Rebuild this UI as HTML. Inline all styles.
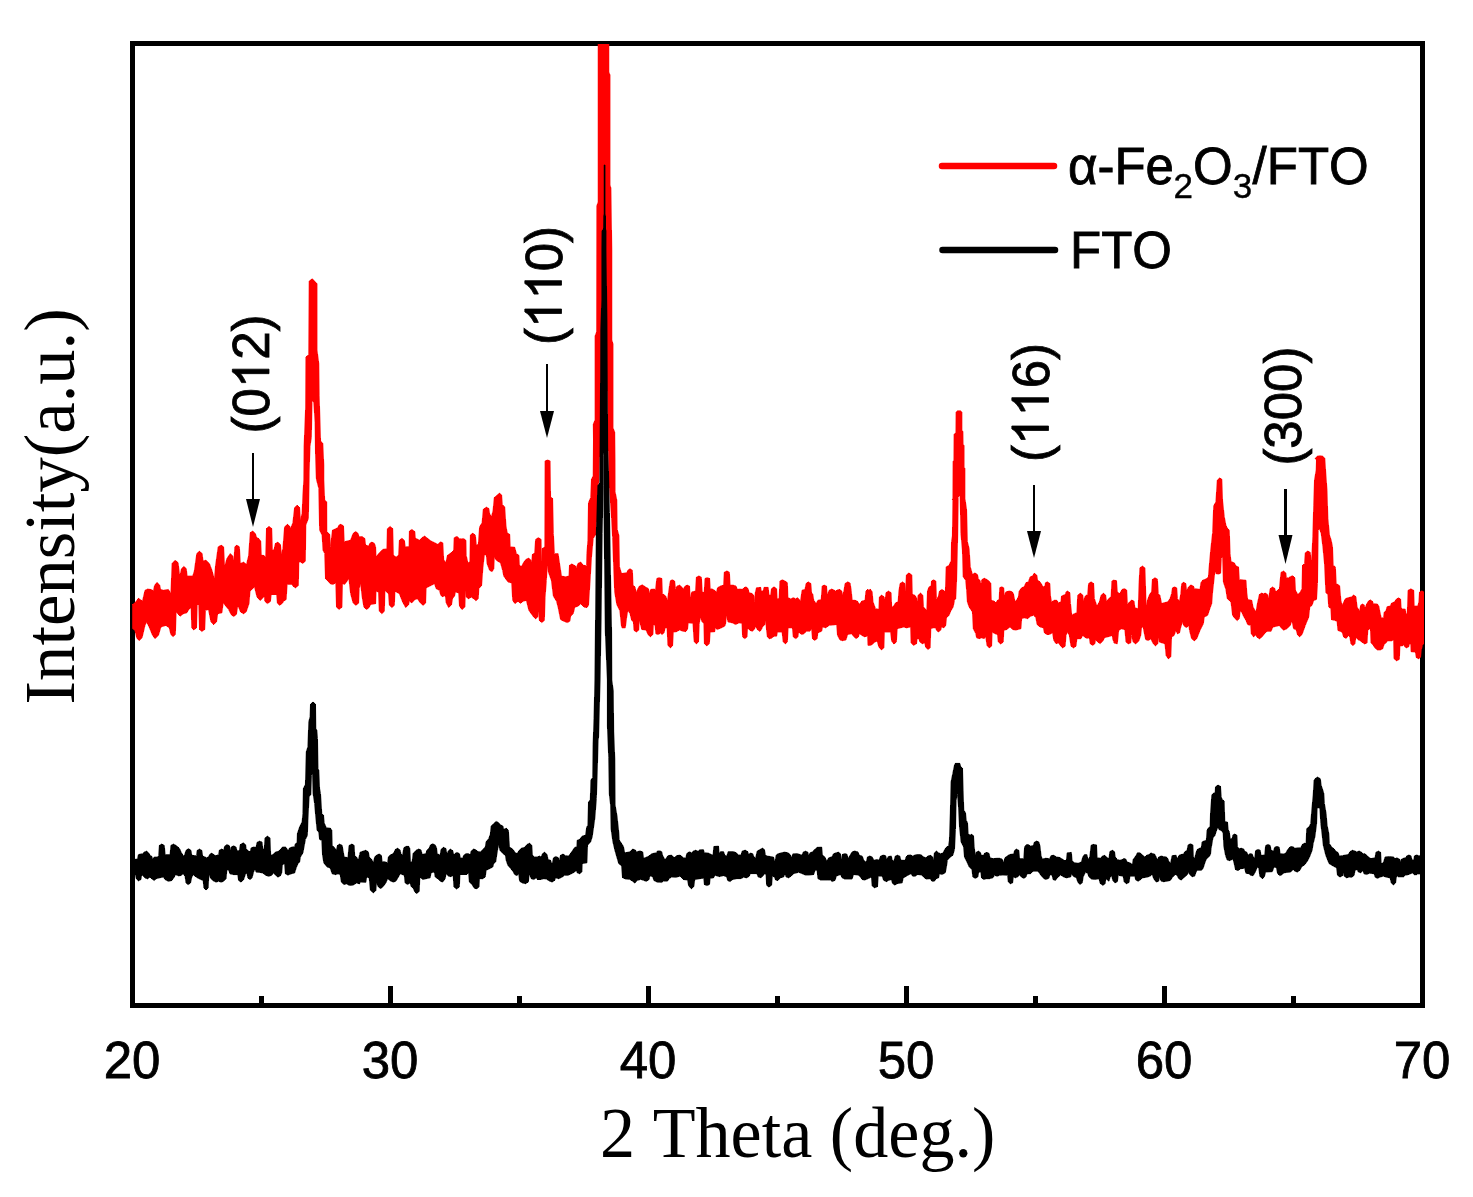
<!DOCTYPE html>
<html><head><meta charset="utf-8"><title>XRD</title>
<style>
html,body{margin:0;padding:0;background:#fff;}
svg{display:block;}
text{font-kerning:none;}
.sans{font-family:"Liberation Sans",sans-serif;font-size:51px;fill:#000;stroke:#000;stroke-width:0.8px;}
.serif{font-family:"Liberation Serif",serif;font-size:71.5px;fill:#000;}
</style></head>
<body>
<svg width="1473" height="1197" viewBox="0 0 1473 1197">
<rect width="1473" height="1197" fill="#fff"/>
<rect x="132.5" y="43.5" width="1290" height="962" fill="none" stroke="#000" stroke-width="5"/>
<clipPath id="c"><rect x="132" y="44" width="1292" height="961"/></clipPath>
<g clip-path="url(#c)" stroke-width="0.8" stroke-linejoin="round" shape-rendering="crispEdges">
<polygon fill="#ff0000" stroke="#ff0000" points="132.5,604.5 135.0,602.8 138.4,598.3 142.5,601.1 145.0,590.3 147.5,589.1 151.7,589.6 153.4,591.1 154.6,585.3 157.1,582.3 159.7,585.3 160.6,589.4 163.4,590.3 168.4,589.4 170.9,593.6 172.1,563.5 175.1,560.2 178.1,562.7 179.8,576.9 181.5,568.6 183.8,566.4 186.3,568.6 187.1,576.1 192.7,576.1 194.3,571.1 196.8,553.5 199.3,551.3 202.2,553.5 203.0,561.0 206.0,560.2 209.4,563.5 211.9,570.2 214.4,579.4 215.5,566.0 218.2,546.8 221.1,545.2 223.6,546.8 224.6,566.9 226.9,558.5 230.3,553.5 232.8,556.0 233.9,561.9 234.8,546.8 236.9,545.2 239.4,546.8 240.3,563.5 243.6,562.2 246.6,564.4 247.5,560.2 248.6,556.0 250.3,532.6 252.8,531.0 255.3,533.5 256.6,537.6 258.7,538.5 260.7,541.0 261.3,555.2 263.7,555.5 265.7,556.9 266.5,528.5 269.0,526.3 271.7,528.5 272.4,550.2 274.0,549.8 275.4,543.5 277.9,542.2 280.4,544.3 281.4,554.4 282.9,548.5 284.6,526.8 287.6,524.3 290.1,526.8 290.7,528.8 292.9,522.6 294.6,507.6 297.1,505.1 299.6,507.6 300.4,520.1 302.1,513.4 302.9,495.0 303.8,480.0 304.1,446.0 305.6,408.0 305.9,357.0 308.7,354.5 309.2,281.0 312.4,278.8 317.0,283.8 317.0,350.0 318.8,363.7 319.2,395.9 320.6,440.9 322.8,443.6 323.8,464.7 323.8,480.0 324.7,500.1 326.7,501.7 326.8,531.8 329.7,534.3 330.5,546.8 332.5,530.1 334.7,529.3 338.0,527.6 338.9,525.1 340.9,524.3 343.5,525.9 344.2,541.8 347.2,541.0 350.6,540.2 353.1,533.5 355.6,531.5 358.2,533.5 358.9,536.8 362.2,536.5 364.8,538.5 365.6,545.2 368.9,546.0 369.8,543.2 371.9,542.2 374.3,543.2 375.6,546.8 376.0,557.0 379.3,552.8 382.7,549.4 386.9,548.9 387.4,528.6 390.2,526.4 392.7,528.6 393.4,555.3 396.1,557.0 398.6,555.3 399.4,540.3 401.9,538.2 404.4,540.3 405.2,546.9 409.1,546.6 409.4,531.1 411.9,529.4 414.8,531.6 415.3,538.2 419.8,540.3 421.9,537.7 424.8,536.1 427.8,538.6 431.1,541.1 435.3,543.1 437.8,544.4 440.3,541.9 442.8,542.8 443.7,559.5 445.8,562.8 447.5,555.3 451.2,552.8 453.7,550.3 454.2,537.7 457.0,536.4 459.5,538.6 461.2,538.9 463.7,538.6 465.9,540.3 466.2,555.3 467.9,562.8 469.9,562.0 470.4,534.9 472.9,533.2 475.4,535.2 476.3,544.9 478.3,544.4 479.6,526.9 482.1,522.7 483.3,509.3 486.3,507.2 488.8,508.5 489.6,513.5 491.3,517.2 493.0,511.0 494.3,497.6 497.1,495.1 499.6,493.1 501.6,495.1 502.3,504.3 504.7,506.8 506.0,526.0 507.2,532.7 509.7,534.4 510.2,546.9 514.7,547.3 516.4,553.6 518.9,555.3 519.4,565.3 521.4,566.6 523.9,562.0 526.4,559.0 528.9,558.1 531.1,560.3 531.7,562.8 532.4,554.5 534.7,552.8 535.6,539.4 538.4,537.7 541.1,539.4 541.4,562.8 542.2,548.6 544.8,546.9 545.1,460.9 547.6,460.1 550.1,460.9 550.6,496.8 552.6,498.5 553.4,533.6 554.4,553.6 558.1,553.6 559.8,565.3 561.5,576.2 565.6,576.7 569.0,576.2 569.5,565.3 571.8,564.0 575.7,566.1 576.5,567.8 577.8,563.6 580.7,562.0 583.2,565.3 586.5,565.6 586.9,553.6 587.9,540.3 588.5,502.7 590.7,497.6 591.5,479.3 593.2,475.9 593.5,440.0 593.3,424.0 595.1,420.0 595.1,336.0 596.6,332.0 596.8,206.0 598.2,202.0 598.2,40.0 608.8,40.0 608.8,72.0 610.0,75.0 610.0,185.0 610.9,188.0 611.8,250.0 611.8,340.0 613.0,344.0 613.0,428.0 614.7,432.0 615.0,460.0 615.1,491.8 616.8,500.1 617.2,529.3 618.9,535.6 619.5,566.9 621.4,573.2 622.0,573.5 627.0,572.7 627.8,570.2 630.0,568.8 632.4,570.2 633.0,585.2 635.0,586.9 636.2,592.7 637.9,588.6 639.5,586.0 642.4,584.9 645.4,586.9 648.4,588.6 649.6,593.6 650.7,589.4 654.6,589.1 655.4,591.1 656.8,578.5 659.1,577.7 661.8,578.5 662.4,593.6 665.8,596.1 667.4,601.1 669.6,585.2 670.5,580.5 672.5,579.9 674.6,581.0 675.5,588.6 677.1,586.0 679.6,585.2 681.8,586.9 683.0,589.4 685.2,586.0 687.2,585.2 689.5,586.0 690.2,598.6 691.8,591.9 695.5,591.1 696.4,577.2 698.9,576.0 701.4,577.2 702.2,591.9 704.2,592.7 705.0,578.5 707.2,577.7 709.6,578.5 710.2,588.6 713.1,589.4 715.6,591.1 716.4,592.7 717.6,587.7 720.6,586.0 723.6,585.2 724.3,572.2 726.9,571.0 729.4,572.2 730.1,585.2 733.1,585.2 736.0,586.0 737.3,589.4 739.8,589.1 742.3,589.4 744.0,587.7 746.0,586.9 748.1,588.6 749.0,592.7 752.3,593.6 754.0,596.1 754.5,601.9 755.3,592.7 756.5,587.7 760.7,587.4 761.2,591.1 763.2,591.1 764.0,587.4 768.2,587.4 769.0,595.2 770.7,595.2 771.5,588.6 774.0,586.9 776.6,588.6 777.1,598.6 779.1,598.6 779.9,581.0 782.4,579.9 784.9,581.0 787.4,582.7 787.9,597.7 790.8,598.9 793.3,597.7 795.8,598.9 797.4,597.7 799.4,599.4 800.4,601.9 802.1,590.2 805.0,589.4 806.1,583.5 808.3,581.9 810.8,583.5 811.6,592.7 812.8,594.4 813.8,600.3 816.2,603.6 817.8,600.3 821.2,599.7 822.2,586.0 824.2,585.2 826.5,586.0 827.2,595.2 829.2,590.2 831.7,589.1 834.2,590.2 835.5,591.1 837.5,589.9 840.0,589.4 841.7,591.1 842.6,595.2 843.9,591.1 845.1,583.5 847.6,581.9 850.1,583.0 851.2,590.2 852.2,600.3 855.1,600.3 857.6,601.4 859.3,604.4 861.8,601.1 865.1,600.3 865.9,591.1 867.6,589.4 868.0,590.2 870.5,589.4 872.2,591.9 873.0,601.9 875.5,608.6 878.9,609.4 879.4,596.9 881.7,595.2 884.2,596.9 885.0,601.9 886.0,592.7 888.4,591.1 891.1,592.7 891.7,606.9 893.1,606.9 895.6,602.8 898.1,601.9 898.9,591.1 900.1,583.5 902.6,581.9 904.8,583.5 905.6,591.9 906.4,574.9 908.9,573.0 911.8,574.9 912.3,594.4 914.8,595.2 916.5,597.7 917.3,603.6 918.1,595.2 920.6,593.1 922.8,595.2 923.5,606.9 925.6,609.4 926.8,610.3 927.5,591.1 929.0,586.9 931.2,586.0 931.5,581.0 933.5,579.9 935.8,581.0 936.5,598.6 938.2,596.9 939.5,591.1 941.9,589.4 944.5,591.1 945.2,596.1 946.2,566.8 949.0,565.5 950.2,562.7 951.2,561.0 951.5,541.8 952.4,535.9 952.9,500.0 952.1,499.2 952.9,498.7 953.1,461.1 953.9,460.6 954.1,434.1 955.9,433.1 956.1,412.0 957.5,410.8 960.5,410.8 961.9,412.0 961.9,430.6 962.9,431.3 963.1,444.6 964.1,445.3 964.1,467.6 964.9,468.1 964.9,499.0 965.2,500.0 966.6,510.0 967.4,541.8 969.1,548.5 970.3,566.8 972.4,574.4 974.9,573.0 977.4,574.4 978.3,578.5 980.3,581.0 981.3,590.2 981.6,579.9 984.1,578.2 986.6,579.4 989.1,581.0 990.8,583.5 991.3,600.3 994.1,601.1 995.8,602.8 997.5,600.3 999.2,599.4 999.7,587.7 1001.7,586.9 1003.7,587.7 1004.2,596.1 1005.8,591.9 1009.2,591.1 1012.0,591.6 1013.4,593.6 1014.7,600.3 1015.9,601.4 1018.4,596.9 1019.2,591.1 1021.7,587.7 1024.2,586.9 1025.9,582.7 1028.4,581.9 1030.1,576.9 1032.6,576.0 1034.2,573.2 1036.8,575.2 1037.6,580.2 1040.1,581.9 1042.1,585.2 1043.1,586.9 1045.1,586.0 1045.4,582.7 1047.6,581.9 1049.8,583.5 1050.5,596.1 1051.5,601.9 1054.3,600.3 1056.8,600.3 1058.5,602.8 1061.0,601.9 1061.5,596.1 1063.5,595.2 1065.5,594.4 1066.0,591.9 1067.7,591.1 1069.8,592.7 1070.5,603.6 1071.8,615.3 1074.3,613.6 1076.9,612.8 1077.7,595.2 1080.2,593.2 1082.7,594.9 1083.5,601.1 1085.2,596.1 1087.7,594.4 1088.6,583.5 1091.1,581.9 1093.6,583.5 1094.4,598.6 1096.9,606.1 1099.4,601.9 1101.1,595.2 1103.6,593.2 1105.6,595.2 1106.6,601.9 1108.6,598.6 1111.1,596.9 1111.9,581.0 1113.6,580.2 1114.0,580.3 1116.5,580.6 1117.3,592.0 1119.8,593.7 1122.0,589.5 1124.4,588.7 1126.7,590.0 1127.4,603.7 1129.9,602.0 1131.5,600.0 1134.1,601.2 1134.9,607.9 1138.2,608.7 1139.1,582.8 1139.9,567.8 1142.4,566.1 1144.9,567.8 1145.4,582.0 1146.1,607.0 1147.4,600.4 1149.9,593.7 1151.6,592.0 1152.4,579.5 1154.9,577.8 1157.4,579.0 1158.3,593.7 1159.9,595.3 1161.6,603.7 1163.3,602.9 1167.5,602.0 1170.0,598.7 1171.6,593.7 1172.5,587.8 1174.5,587.0 1176.7,587.8 1177.5,598.7 1179.5,601.2 1180.8,593.7 1181.7,583.6 1183.8,582.3 1185.8,583.6 1186.7,591.2 1188.4,587.0 1190.9,585.0 1193.4,586.1 1194.5,588.7 1197.5,589.0 1200.0,589.5 1200.9,582.8 1202.6,580.3 1205.9,579.0 1208.4,577.0 1209.2,566.9 1210.6,551.1 1212.6,532.7 1213.7,505.9 1215.9,501.8 1217.3,480.1 1219.6,478.0 1221.8,479.2 1222.6,500.9 1224.3,516.8 1225.9,525.2 1227.3,528.2 1229.3,530.2 1230.1,553.6 1231.0,561.6 1234.3,562.8 1236.0,566.1 1238.5,566.9 1239.3,579.5 1243.5,580.0 1246.0,580.3 1246.8,592.8 1247.7,599.5 1251.8,600.4 1253.0,607.0 1256.0,612.0 1257.4,603.7 1259.4,594.5 1261.4,593.2 1263.5,593.7 1265.2,593.2 1267.4,594.2 1268.6,598.7 1270.2,588.7 1272.4,587.0 1274.7,588.3 1275.7,592.0 1279.4,588.7 1280.2,580.3 1281.1,572.3 1283.6,571.1 1285.8,572.8 1286.4,577.8 1288.6,577.8 1290.3,576.6 1292.8,575.8 1294.8,577.8 1295.5,590.3 1297.8,594.5 1300.3,592.0 1302.0,588.7 1302.5,565.3 1304.5,563.6 1305.3,552.7 1307.8,551.1 1310.3,552.4 1311.2,564.4 1312.0,553.6 1312.8,536.9 1313.7,505.1 1314.5,480.1 1316.2,470.0 1316.5,460.0 1315.3,458.5 1317.0,456.3 1320.0,455.8 1323.0,456.3 1324.8,458.5 1324.9,460.0 1325.9,475.0 1327.0,490.1 1327.9,518.5 1329.5,535.2 1331.2,540.2 1332.5,546.9 1333.2,565.3 1335.4,566.9 1336.2,583.6 1339.6,585.6 1340.9,600.4 1342.1,605.4 1345.4,598.7 1347.9,597.8 1351.3,597.0 1353.8,595.0 1355.9,596.7 1357.1,607.0 1359.6,611.2 1360.8,604.9 1362.5,604.1 1364.3,604.9 1364.8,609.0 1366.3,604.9 1368.1,601.4 1370.4,599.9 1372.5,601.4 1373.3,603.7 1377.4,604.1 1378.8,606.1 1379.8,611.3 1381.2,617.8 1383.5,617.8 1384.2,612.5 1386.2,610.2 1387.0,606.7 1390.3,606.1 1391.5,603.2 1394.4,602.0 1396.4,599.1 1398.5,597.9 1400.6,599.1 1401.1,607.8 1402.6,609.0 1405.3,609.2 1406.1,614.9 1407.3,612.5 1408.1,590.3 1410.8,588.9 1413.7,590.3 1414.2,606.1 1417.8,606.1 1418.9,602.0 1419.5,592.0 1421.9,590.9 1424.0,592.0 1425.4,592.6 1425.4,642.9 1424.0,642.9 1422.5,645.3 1421.3,649.9 1420.5,657.5 1418.4,658.7 1416.3,657.5 1415.4,652.0 1411.1,651.7 1410.8,644.1 1409.2,644.1 1408.8,646.7 1406.7,647.8 1404.9,647.0 1403.7,644.7 1402.6,645.8 1399.9,645.8 1399.4,659.3 1396.7,660.8 1394.0,658.7 1393.6,640.0 1391.5,640.8 1387.4,640.8 1386.2,642.9 1384.2,644.1 1382.7,648.8 1380.4,649.9 1377.4,649.9 1375.1,648.2 1373.3,645.3 1371.0,642.9 1370.4,628.3 1367.8,630.1 1367.1,642.9 1364.6,643.9 1362.2,642.3 1360.8,641.2 1359.6,640.5 1357.9,639.6 1355.9,637.1 1354.9,643.8 1352.9,645.8 1350.9,643.8 1349.9,637.1 1348.3,635.4 1346.2,638.4 1343.7,637.1 1342.1,632.1 1337.9,630.4 1337.1,621.2 1334.6,620.4 1331.5,619.6 1330.9,608.7 1328.7,607.0 1327.9,594.5 1325.9,592.8 1324.5,563.6 1322.9,546.9 1321.2,533.5 1319.5,528.8 1318.2,530.2 1317.5,583.6 1316.5,599.5 1313.7,600.4 1312.0,605.4 1309.8,607.0 1308.7,617.1 1305.3,625.4 1302.0,634.6 1299.5,636.8 1297.5,634.6 1296.1,629.6 1293.6,628.8 1291.9,620.4 1290.3,625.4 1286.9,628.8 1283.6,630.1 1281.1,627.9 1279.4,625.4 1276.9,626.2 1272.7,627.1 1271.1,631.3 1266.9,631.3 1264.4,633.8 1261.9,637.1 1259.4,638.8 1256.9,637.1 1255.7,635.1 1253.5,636.8 1251.3,633.8 1250.7,625.4 1247.7,624.6 1246.0,620.4 1243.5,616.2 1241.8,612.0 1240.1,611.2 1239.3,618.7 1237.3,620.7 1235.1,618.7 1232.6,615.4 1231.0,602.0 1229.3,600.4 1227.3,598.7 1225.9,589.5 1223.4,582.0 1222.6,556.9 1221.3,558.6 1220.6,573.3 1218.4,574.0 1215.9,573.6 1215.1,569.4 1212.6,592.0 1211.7,603.7 1210.1,607.9 1207.6,615.4 1204.2,617.1 1203.4,623.7 1200.0,630.4 1196.7,638.8 1194.2,640.8 1191.7,638.8 1189.5,630.4 1188.9,625.4 1186.7,627.6 1184.2,626.2 1182.5,622.1 1180.8,627.1 1179.5,632.9 1177.5,633.8 1175.8,630.4 1174.2,635.4 1171.6,637.1 1170.8,656.8 1168.3,658.8 1166.1,655.5 1165.0,643.8 1162.5,643.0 1159.4,642.1 1158.3,637.1 1157.8,643.8 1155.4,645.8 1153.3,643.8 1150.8,638.8 1148.3,640.5 1145.7,639.6 1144.1,632.1 1143.2,627.1 1141.6,627.1 1140.7,635.4 1138.7,641.3 1135.7,643.8 1133.2,642.1 1131.5,635.4 1130.7,643.0 1128.2,643.8 1126.0,642.1 1124.9,629.6 1121.5,628.8 1118.7,630.4 1117.3,643.8 1114.0,643.0 1113.6,641.2 1112.8,639.5 1112.3,635.3 1110.3,636.2 1106.9,637.0 1104.4,637.8 1102.8,641.2 1100.2,643.7 1097.7,642.0 1095.6,639.5 1094.9,643.7 1092.7,645.4 1090.2,643.7 1089.4,637.8 1086.9,638.3 1084.4,637.0 1082.7,635.3 1081.0,638.7 1076.9,638.7 1076.0,646.2 1073.5,647.9 1071.0,646.2 1069.3,635.3 1067.7,632.0 1066.0,635.3 1065.2,646.2 1062.7,647.9 1060.1,645.4 1058.5,642.9 1056.0,643.7 1053.8,640.4 1052.6,632.8 1049.3,634.5 1046.8,634.5 1044.4,632.8 1043.4,627.8 1040.1,627.0 1037.1,624.5 1035.9,617.8 1033.4,615.3 1030.9,616.1 1027.6,618.6 1024.2,617.8 1021.7,618.6 1020.9,628.7 1015.9,630.0 1012.5,629.5 1010.0,627.0 1006.7,629.5 1003.8,630.3 1003.3,642.0 1000.8,644.0 998.3,642.0 997.5,634.5 995.0,633.7 992.1,632.0 991.6,646.2 989.1,647.9 987.0,645.4 985.8,637.0 984.1,638.7 981.6,637.8 979.1,638.7 976.6,637.8 975.8,633.7 973.3,628.7 972.4,611.9 969.1,606.9 967.4,601.9 966.6,590.2 965.7,580.2 963.2,576.9 962.4,550.1 960.9,533.4 960.2,500.0 960.1,496.2 959.1,495.7 958.1,497.2 958.2,500.0 957.7,535.9 956.6,580.2 955.7,598.6 954.5,600.3 953.2,606.9 950.7,611.1 949.0,615.3 946.5,617.8 945.7,625.3 944.0,627.8 941.5,627.0 940.7,630.3 938.2,632.0 936.5,630.3 935.7,627.8 933.2,627.8 930.8,628.7 930.2,647.9 927.8,649.5 925.6,647.0 924.8,642.9 922.3,643.7 919.8,642.0 919.0,638.7 917.1,638.7 916.5,643.7 913.4,645.4 911.1,642.9 910.6,627.0 906.4,627.8 903.9,627.0 900.6,627.8 897.2,628.7 896.4,642.0 893.9,644.0 891.7,641.2 890.6,632.0 884.4,632.0 883.9,647.9 881.4,649.9 878.9,647.0 877.2,641.2 874.7,642.0 873.3,643.7 870.5,645.4 868.0,645.4 867.6,636.2 864.3,636.7 861.8,635.3 859.3,633.7 858.4,637.0 855.9,638.7 853.4,636.2 851.7,633.7 847.6,634.5 845.9,640.0 842.6,640.7 840.0,640.0 837.5,635.3 836.7,624.5 832.5,625.0 829.2,625.3 825.8,627.8 822.5,627.0 821.7,631.2 817.8,632.8 817.2,638.7 814.5,640.4 812.5,638.7 811.6,628.7 810.0,631.2 806.6,631.2 804.1,633.7 801.6,634.5 798.6,632.0 797.9,637.0 795.8,638.7 793.3,637.0 792.4,627.8 788.1,627.8 787.4,642.0 785.4,643.7 783.2,642.0 782.1,632.0 777.4,632.0 776.6,636.2 774.0,636.2 771.5,638.3 769.4,638.7 767.4,637.0 766.5,629.5 765.7,620.3 764.9,624.5 762.4,627.0 761.5,629.5 759.8,631.5 757.3,629.5 755.7,626.1 754.3,629.5 752.3,631.2 749.8,630.3 747.6,627.8 747.0,637.0 744.8,638.7 742.6,637.0 742.0,623.3 739.0,622.8 735.6,624.5 732.3,622.8 728.1,622.0 726.4,615.3 725.6,623.6 724.8,626.1 721.4,627.8 717.2,629.5 715.2,627.8 714.7,631.7 710.1,632.0 709.4,643.7 706.9,645.9 704.4,643.7 703.9,623.6 702.2,622.0 700.2,617.0 699.2,624.5 698.5,642.0 696.4,643.7 694.3,642.0 693.8,637.0 693.0,623.3 688.2,622.8 687.5,629.5 685.5,631.7 683.0,631.2 679.6,630.0 676.3,631.7 673.3,632.0 672.6,645.4 670.5,647.9 667.9,645.4 667.1,627.8 665.1,627.8 664.1,632.8 662.1,634.5 660.4,633.3 657.9,634.5 655.8,633.7 655.1,625.3 653.4,624.5 652.9,634.5 650.4,636.7 647.9,634.5 646.2,630.0 641.7,629.5 641.2,627.0 639.2,620.3 638.7,630.3 636.2,632.0 634.0,630.3 633.4,622.0 631.7,620.3 630.0,613.6 627.8,610.3 626.7,617.0 625.3,627.8 622.0,627.8 621.4,625.4 619.9,610.8 616.8,604.5 614.7,592.0 613.7,566.9 612.6,537.7 611.6,518.9 609.0,480.0 606.0,300.0 604.5,165.0 603.0,300.0 599.0,480.0 598.2,485.1 596.9,506.8 596.2,533.6 593.2,538.6 591.5,557.0 589.9,583.7 588.5,605.4 586.9,607.6 584.0,607.1 580.7,603.7 578.2,606.2 574.8,607.1 573.2,613.8 570.7,616.3 569.8,621.3 567.3,622.6 564.0,621.3 560.6,619.6 558.1,607.1 556.5,601.2 553.4,596.2 551.4,580.4 548.4,572.0 547.3,564.5 546.4,580.4 545.1,597.1 544.4,620.5 541.7,622.6 539.4,620.5 538.4,610.4 537.7,617.1 535.6,618.8 533.1,616.3 528.9,610.4 526.4,600.4 523.0,601.2 520.5,603.4 518.0,601.2 515.0,603.7 512.7,600.4 511.7,582.9 508.0,582.0 503.8,576.2 502.6,570.3 500.5,562.8 496.3,560.3 494.3,557.0 493.8,568.7 492.1,571.7 489.6,570.3 487.1,563.6 486.3,554.5 484.3,555.3 482.9,567.8 481.6,585.4 478.8,588.7 478.3,598.7 475.9,600.9 473.7,598.7 471.2,597.1 468.7,598.7 466.2,597.1 465.4,590.4 464.9,607.1 462.0,609.6 459.5,606.2 458.7,592.9 455.4,592.0 454.5,596.2 452.5,598.7 451.5,604.6 448.7,607.6 446.2,602.9 445.3,595.4 442.8,596.7 440.8,595.4 439.5,590.4 436.2,588.7 434.5,583.7 431.1,585.4 426.1,587.9 425.6,602.9 423.3,605.4 420.3,602.9 417.4,598.7 414.8,599.6 411.9,602.9 409.4,601.2 408.6,604.6 405.7,607.6 402.7,602.1 399.4,593.7 394.9,591.2 394.4,605.4 391.9,607.6 389.4,605.4 388.5,593.7 384.9,590.4 384.4,611.3 381.8,613.8 379.3,611.3 378.5,592.0 376.0,591.2 375.6,603.6 370.6,604.5 368.9,607.8 366.4,609.5 363.9,607.0 362.2,597.0 360.6,583.6 359.2,588.6 358.6,603.3 355.6,605.3 353.1,602.8 350.6,593.6 348.9,578.6 344.7,584.4 342.5,583.6 341.9,607.3 338.9,609.5 336.5,607.0 335.8,582.8 333.0,584.4 330.5,583.9 328.0,581.1 325.5,578.6 324.7,553.5 323.0,550.2 322.1,535.1 319.6,530.1 318.8,488.4 316.6,480.0 316.3,478.0 315.5,453.7 315.1,422.5 313.8,402.3 312.4,401.4 312.0,402.3 311.4,437.2 310.0,446.4 309.2,472.0 309.1,480.0 308.4,518.4 305.8,525.1 305.4,561.0 302.9,563.5 300.4,561.9 298.8,561.9 298.4,585.6 295.4,587.8 292.9,586.1 292.1,584.4 287.1,584.4 286.2,599.5 283.7,601.1 282.4,603.3 279.5,605.3 277.4,603.3 276.7,594.5 271.2,594.5 270.4,601.6 267.3,603.6 264.7,601.1 264.2,589.4 263.7,597.0 260.3,600.6 257.0,597.0 254.5,586.9 250.0,591.1 249.0,603.6 246.1,612.0 243.6,613.7 240.6,612.0 237.8,605.3 236.4,614.5 233.6,616.5 231.1,614.5 228.6,609.5 223.2,602.8 221.9,612.8 217.7,613.7 216.5,622.0 213.5,624.5 211.0,622.0 208.5,609.5 205.5,610.3 204.7,629.5 201.8,631.5 199.5,629.5 198.8,604.5 197.2,604.5 196.5,627.9 193.8,629.9 191.7,627.9 191.2,607.8 189.3,608.7 186.8,612.8 183.5,613.7 180.1,616.2 176.1,612.0 175.4,634.6 173.1,636.7 170.9,634.6 169.3,627.9 165.9,625.4 160.9,627.0 158.4,635.4 155.1,638.7 152.6,635.4 149.2,627.0 146.7,622.0 145.0,625.4 142.0,637.9 139.2,640.7 136.7,637.9 135.0,630.4 132.5,628.7"/>
<polygon fill="#000" stroke="#000" points="132.5,859.6 137.5,859.1 138.4,854.6 142.5,853.7 144.2,852.1 146.7,851.2 148.7,852.9 150.1,855.4 151.7,856.2 152.6,858.8 154.2,857.1 157.6,857.1 158.7,855.4 159.4,845.4 161.7,844.1 164.3,845.4 165.1,854.6 170.1,854.6 170.9,845.4 173.4,844.1 175.9,845.4 178.5,847.4 180.1,849.6 181.0,852.1 183.1,855.4 184.3,856.2 186.0,850.4 188.5,848.7 191.0,850.4 191.8,855.4 196.5,855.7 197.2,850.4 199.5,849.1 201.8,850.4 202.7,856.2 205.2,857.1 206.9,857.9 208.9,856.2 209.9,854.1 211.9,853.2 214.4,855.1 216.0,855.7 218.6,854.6 219.4,850.1 221.6,849.1 223.9,850.1 224.6,846.2 226.9,844.6 229.4,845.7 230.3,851.2 231.1,847.1 233.6,845.9 236.1,847.1 236.9,850.7 239.4,850.7 240.3,844.6 243.3,842.9 245.6,844.6 246.1,848.7 248.6,851.2 250.3,851.7 251.1,847.9 253.6,847.1 256.1,847.4 257.0,842.4 259.5,841.2 262.0,842.0 262.8,848.7 264.2,849.6 265.0,837.9 267.3,836.2 270.0,837.9 270.7,855.4 272.9,854.6 275.4,852.1 278.7,851.2 281.2,848.7 282.4,847.1 285.4,847.1 287.1,848.7 287.9,851.2 289.6,847.9 292.1,847.1 294.6,846.7 295.4,843.7 297.1,842.9 297.4,833.7 299.6,827.0 302.1,822.0 302.9,813.6 303.4,788.6 305.4,784.4 306.3,751.8 307.9,746.8 308.8,721.7 310.1,716.7 310.5,704.2 313.0,702.0 315.5,704.2 315.8,728.4 316.8,730.1 317.5,738.5 318.0,768.5 318.8,770.2 319.6,788.6 320.5,793.6 321.8,813.6 323.5,815.3 324.2,822.8 326.3,827.8 330.5,828.3 331.8,830.4 332.2,845.4 334.2,847.1 336.3,850.4 337.5,845.4 339.7,844.1 342.2,845.4 343.0,850.4 344.2,857.1 348.0,857.6 348.9,847.1 349.2,845.4 351.9,844.1 354.2,845.4 354.7,855.4 357.2,857.9 358.1,861.3 359.6,854.6 360.0,852.3 363.3,851.1 365.8,850.3 368.4,851.9 369.2,857.0 371.7,859.5 373.4,862.8 374.7,857.0 376.7,855.0 379.2,854.1 381.4,855.3 382.1,862.0 384.2,861.6 387.6,862.8 388.4,857.0 390.1,855.0 392.6,854.1 394.3,851.9 395.4,849.4 397.6,848.3 400.1,849.9 400.9,853.6 402.6,855.3 403.8,847.8 405.9,846.4 408.8,846.4 409.8,848.6 410.5,862.0 412.1,862.0 413.1,853.6 416.0,850.3 418.5,849.1 421.0,849.9 422.2,854.5 426.0,853.6 426.8,850.3 429.3,847.8 430.5,844.9 432.7,843.9 435.2,844.9 436.5,847.8 437.2,853.6 440.2,855.3 441.0,849.4 443.5,847.4 446.0,848.6 446.9,855.3 448.1,851.1 450.2,849.1 452.7,850.6 453.9,855.3 454.9,853.6 456.9,852.4 459.4,853.6 460.3,857.8 462.8,858.3 463.6,855.3 466.1,853.6 468.6,853.6 470.3,855.0 471.1,851.1 473.6,849.1 476.1,849.9 477.8,851.6 480.6,851.9 482.8,849.4 485.3,846.9 486.1,841.9 488.7,838.6 490.3,834.4 491.2,826.0 493.7,823.5 496.2,821.4 498.7,822.7 500.4,824.9 502.9,826.0 503.7,829.4 506.2,828.2 508.4,830.2 509.0,840.3 509.5,846.9 512.9,849.4 515.4,852.8 517.1,853.6 518.7,851.1 521.2,848.3 524.6,847.4 527.1,844.4 529.6,843.3 531.8,845.3 532.4,855.3 534.6,857.0 537.1,857.0 539.6,856.1 541.3,857.0 542.5,853.6 544.6,852.3 547.1,854.5 548.0,859.5 550.5,860.3 552.1,864.5 553.5,857.8 555.8,856.5 558.5,857.8 559.2,862.0 560.5,855.3 563.0,854.1 565.5,855.6 568.5,856.1 571.4,852.3 574.7,847.4 576.9,846.9 577.2,840.3 579.7,839.4 582.2,836.1 585.6,835.2 586.7,827.1 587.9,825.2 588.5,802.2 590.3,799.5 590.9,780.2 592.7,777.4 593.1,744.3 594.0,718.6 594.9,680.0 595.5,621.0 596.3,533.5 597.8,485.5 599.8,483.0 600.2,429.0 600.5,387.0 600.7,330.0 601.8,300.0 601.8,250.0 602.0,231.0 603.5,229.0 603.7,216.0 604.2,214.0 604.2,165.0 605.0,165.0 605.0,214.0 605.5,216.0 605.5,229.0 606.0,231.0 606.0,250.0 607.0,321.0 607.7,448.0 608.5,470.9 609.5,512.6 610.5,575.0 611.6,631.6 611.8,680.0 613.3,691.0 613.7,731.5 614.8,759.0 615.1,805.0 617.0,816.0 618.8,832.6 619.2,839.9 623.4,846.4 624.7,852.8 629.9,851.9 632.6,849.1 635.4,850.0 636.3,851.9 640.0,851.0 642.7,851.9 643.6,858.3 648.2,856.5 651.9,853.7 656.5,852.8 657.4,851.0 660.0,851.0 661.7,851.6 662.5,855.2 665.0,859.9 668.0,855.6 671.7,855.2 674.2,857.7 676.7,855.6 680.1,855.2 683.4,857.7 685.9,858.2 686.7,853.6 689.2,851.9 691.7,852.7 693.4,851.1 695.9,850.2 698.4,851.6 699.3,849.9 703.4,849.6 704.3,852.7 708.5,853.2 711.0,854.4 713.1,855.2 713.8,846.5 718.5,846.2 719.1,853.6 720.5,851.6 723.5,851.6 724.8,855.2 726.8,856.1 728.2,851.6 733.5,851.6 736.0,852.7 738.5,854.9 741.0,855.2 742.2,851.1 745.2,850.2 747.7,851.6 748.6,854.4 750.2,853.2 752.7,853.6 753.9,856.9 755.6,858.2 757.2,851.1 760.3,849.4 762.3,848.2 764.4,849.4 765.3,854.4 766.9,856.1 771.1,856.6 773.6,857.2 775.0,862.8 776.1,855.2 777.8,853.9 782.0,852.7 784.5,852.2 787.8,852.7 790.0,854.4 791.7,857.7 792.8,853.9 797.0,853.6 799.5,854.4 802.0,855.2 803.4,851.9 805.7,851.2 807.9,852.2 808.7,856.1 810.0,852.7 812.9,851.9 813.7,850.2 815.4,848.9 817.1,847.4 821.7,847.2 822.4,855.2 824.6,856.6 826.8,861.1 828.8,857.7 832.1,856.9 833.4,853.9 836.3,852.7 838.8,852.2 840.5,853.9 841.3,860.3 842.5,854.4 845.1,853.6 847.1,854.4 848.0,858.6 849.6,856.1 852.1,851.9 854.7,851.1 858.0,851.9 859.2,855.2 862.2,856.1 863.8,860.3 866.3,862.3 867.5,856.9 869.7,856.1 872.2,856.9 873.9,860.3 877.2,859.4 878.9,860.3 880.6,856.1 883.1,855.2 885.6,855.6 886.9,860.3 888.1,856.6 891.4,856.1 892.2,860.3 893.9,861.1 895.3,856.1 897.3,855.2 899.8,856.1 900.9,860.3 905.3,860.3 906.0,857.0 907.7,855.3 910.7,855.0 912.7,856.1 914.4,855.3 916.9,854.5 920.2,854.5 921.9,855.3 923.5,857.0 926.1,857.8 927.7,856.1 930.2,855.3 932.4,856.6 933.6,860.3 934.4,852.8 936.4,851.1 938.6,852.8 940.3,853.6 942.8,853.3 944.4,850.3 945.8,847.8 948.6,845.6 949.4,840.3 950.3,813.5 951.1,781.8 952.8,773.4 954.5,765.1 955.3,763.4 959.8,763.4 960.8,766.7 962.5,768.4 963.1,790.1 963.8,810.2 965.5,812.7 966.2,820.2 967.5,822.7 968.2,834.4 970.3,834.9 971.5,834.4 973.5,835.6 974.2,846.9 975.3,855.3 976.2,852.3 978.2,851.1 980.4,852.3 981.2,855.3 983.7,855.3 984.5,853.3 987.0,852.3 989.2,853.6 989.9,857.8 992.9,858.6 997.1,858.3 999.6,858.3 1002.1,859.0 1003.7,862.8 1004.9,857.8 1007.1,856.1 1009.6,854.5 1013.8,854.0 1014.6,850.3 1016.3,849.1 1018.8,850.3 1019.6,858.6 1023.8,858.6 1024.6,846.9 1026.0,844.9 1028.0,844.4 1030.5,846.1 1033.3,845.6 1034.3,842.3 1036.3,841.1 1038.8,841.9 1040.0,846.1 1041.0,855.3 1042.2,859.0 1045.5,858.3 1049.7,858.6 1051.0,855.6 1053.9,855.3 1056.4,857.0 1059.7,857.5 1062.2,859.0 1064.7,860.6 1066.4,860.3 1067.2,852.8 1071.4,852.4 1072.1,861.1 1074.8,862.8 1078.1,863.3 1081.4,862.0 1082.8,857.0 1084.4,854.5 1086.8,854.5 1088.1,859.5 1089.8,857.0 1091.1,845.3 1093.1,844.4 1096.5,844.9 1097.1,857.8 1100.7,858.3 1102.3,856.1 1104.8,855.3 1107.3,857.8 1109.0,858.6 1109.8,851.6 1112.3,850.3 1114.5,851.6 1115.2,857.0 1117.4,859.5 1119.9,860.3 1122.4,859.5 1124.0,858.3 1126.2,859.5 1126.9,862.0 1129.9,862.8 1132.4,864.5 1133.2,859.5 1136.2,855.3 1137.4,852.8 1139.9,852.8 1142.4,855.0 1144.9,857.0 1146.6,855.3 1149.1,854.5 1151.3,852.8 1152.0,853.6 1154.5,854.0 1156.2,857.0 1157.0,860.3 1158.7,857.0 1161.2,856.1 1163.7,856.6 1166.2,857.0 1167.9,858.6 1169.0,862.0 1170.7,862.8 1172.1,855.6 1176.2,855.3 1177.1,859.0 1179.1,855.3 1181.2,854.5 1183.7,854.1 1184.6,851.9 1187.1,850.3 1188.1,844.9 1190.4,843.9 1192.9,844.9 1193.4,857.0 1194.6,858.6 1196.3,851.9 1197.4,849.4 1199.6,848.3 1201.3,847.8 1202.1,841.9 1204.6,840.8 1206.3,840.3 1207.1,830.2 1208.5,827.7 1210.1,826.9 1210.5,813.5 1211.8,795.1 1213.0,793.5 1215.2,792.6 1215.5,786.8 1218.0,785.1 1220.5,786.4 1221.2,796.8 1222.2,799.3 1224.2,801.0 1224.8,821.5 1227.5,822.2 1228.2,830.2 1229.2,831.1 1230.2,838.6 1232.2,838.6 1232.9,834.9 1234.7,834.1 1236.9,835.2 1237.5,846.9 1239.2,848.6 1241.4,848.3 1243.6,848.9 1244.7,851.1 1246.9,852.3 1248.1,855.3 1249.7,853.6 1252.3,854.0 1253.1,857.0 1254.8,857.8 1255.6,850.6 1258.1,849.4 1260.3,850.3 1260.9,855.3 1263.1,855.3 1264.8,854.5 1265.6,845.6 1268.1,844.4 1270.3,845.6 1271.0,850.3 1273.6,851.1 1274.6,847.3 1277.0,846.3 1279.3,847.3 1280.0,853.6 1283.2,854.0 1285.7,853.3 1287.3,850.3 1289.0,847.8 1291.0,846.4 1293.2,846.9 1294.9,848.3 1298.2,847.8 1300.7,847.8 1302.4,844.4 1304.4,843.3 1306.1,843.6 1306.7,828.6 1309.1,826.9 1310.7,823.5 1312.1,806.8 1313.2,795.1 1314.1,780.1 1315.7,778.1 1317.7,777.1 1320.4,778.8 1321.1,785.1 1322.8,790.1 1323.8,793.5 1324.4,803.5 1326.1,813.5 1327.1,825.2 1328.8,833.6 1329.4,843.6 1331.6,846.9 1334.1,848.9 1335.8,851.1 1338.3,852.8 1339.1,856.1 1342.5,855.6 1345.8,855.0 1348.3,854.5 1350.0,851.6 1352.5,850.3 1355.0,851.1 1356.7,851.9 1359.2,851.1 1361.7,852.3 1362.9,854.0 1365.0,853.6 1366.7,855.3 1368.4,857.0 1370.9,858.6 1375.1,857.8 1375.9,852.3 1378.4,851.1 1380.6,852.3 1381.2,863.6 1383.4,862.8 1385.1,857.0 1389.3,856.5 1393.4,857.0 1395.1,858.6 1397.3,857.8 1398.0,858.5 1399.7,859.3 1400.3,862.2 1401.4,859.3 1403.5,858.3 1406.0,857.6 1406.8,855.8 1408.9,855.1 1411.0,855.8 1412.0,860.0 1413.9,860.0 1414.4,855.9 1416.4,855.1 1418.5,855.5 1420.2,855.9 1424.4,855.9 1424.4,873.9 1420.2,873.9 1417.7,873.9 1416.4,874.7 1414.4,874.7 1412.7,873.1 1411.0,873.5 1408.1,874.7 1405.2,875.2 1403.5,876.8 1398.0,876.8 1397.3,876.2 1396.3,877.0 1395.6,882.9 1393.4,885.0 1391.3,882.9 1390.1,877.8 1386.8,877.3 1383.4,876.2 1380.1,877.0 1377.6,878.3 1375.2,877.3 1374.2,873.7 1369.2,873.3 1366.7,874.5 1363.9,873.7 1362.9,870.3 1360.9,872.8 1358.3,872.0 1357.2,869.5 1355.0,870.3 1354.2,875.3 1351.7,877.3 1349.2,877.0 1346.7,877.8 1344.1,876.2 1343.3,872.0 1342.5,875.7 1340.0,877.0 1337.5,875.3 1336.6,867.8 1333.3,866.1 1329.1,863.6 1325.8,855.3 1323.3,845.3 1322.4,836.9 1320.8,823.5 1319.9,808.5 1318.2,807.7 1317.1,808.8 1316.6,823.5 1314.9,836.9 1313.2,843.6 1312.1,850.3 1309.9,856.1 1307.4,861.1 1304.9,864.5 1301.5,867.0 1299.9,870.3 1297.4,872.0 1294.9,871.2 1293.2,869.5 1290.7,872.0 1284.0,872.8 1282.3,874.5 1279.8,875.7 1277.6,873.7 1276.5,867.8 1274.0,867.0 1272.3,871.7 1265.6,872.0 1264.3,877.0 1262.3,878.7 1259.8,876.2 1258.9,868.7 1257.3,867.0 1255.3,872.0 1253.1,875.7 1250.6,875.3 1248.9,873.7 1245.9,873.3 1244.7,868.3 1240.6,868.7 1238.0,870.7 1235.5,869.5 1234.2,863.6 1233.0,859.0 1229.7,860.6 1227.2,860.0 1225.5,855.3 1223.8,846.1 1223.2,833.6 1222.2,831.1 1218.8,829.4 1218.0,826.9 1216.3,831.1 1214.7,836.1 1213.0,837.7 1211.1,848.6 1210.5,854.5 1208.8,857.0 1206.3,859.0 1204.6,863.6 1203.0,868.7 1201.3,870.3 1197.1,870.3 1195.8,872.8 1194.6,876.2 1192.1,876.7 1189.6,874.5 1188.4,872.0 1187.1,875.0 1183.7,877.8 1181.2,880.0 1178.7,878.7 1177.1,875.3 1175.4,874.5 1172.1,877.8 1170.4,880.4 1167.0,881.2 1163.7,881.7 1161.2,881.2 1159.5,877.0 1158.7,881.2 1156.2,882.0 1153.7,878.7 1152.0,873.7 1151.3,875.3 1149.9,876.2 1146.6,877.3 1142.4,877.8 1140.8,879.5 1138.2,881.2 1135.7,880.0 1134.9,876.2 1129.9,876.2 1129.1,882.4 1126.6,883.7 1124.2,882.0 1123.2,876.2 1118.2,875.3 1117.4,881.7 1114.9,882.9 1112.9,880.7 1111.8,876.2 1110.2,876.7 1109.0,881.2 1105.8,878.7 1105.2,883.7 1102.8,885.4 1100.2,883.4 1099.0,878.7 1094.8,879.5 1091.5,879.0 1089.0,877.0 1087.8,873.7 1085.6,872.0 1083.1,877.0 1082.3,882.9 1079.8,884.5 1077.8,882.0 1076.4,877.8 1073.1,876.2 1071.7,873.7 1070.6,877.0 1066.4,877.8 1063.9,877.0 1060.6,875.0 1057.2,877.8 1055.5,880.4 1053.0,879.5 1052.2,875.3 1050.0,874.5 1048.9,878.3 1045.5,879.5 1043.0,877.8 1039.7,873.7 1038.0,871.2 1033.0,871.2 1030.5,873.7 1027.1,873.7 1026.0,877.0 1023.8,878.3 1021.3,877.0 1019.6,875.0 1017.9,876.7 1015.4,877.8 1013.3,877.0 1012.6,882.9 1010.4,883.7 1008.3,882.0 1007.6,875.3 1002.9,875.0 999.6,875.3 997.1,876.2 994.6,875.3 992.9,877.8 989.5,878.7 986.2,878.7 983.7,879.5 981.5,877.8 980.9,872.0 978.8,872.0 977.8,877.0 975.3,878.3 972.8,877.0 972.0,869.5 969.2,867.0 967.0,862.0 964.5,857.0 963.6,846.9 961.1,841.9 959.5,826.9 958.5,806.8 957.5,794.3 956.1,800.2 955.5,829.4 954.5,849.4 952.8,855.3 949.4,857.8 947.4,860.3 946.4,867.0 945.3,872.8 941.9,874.5 939.4,873.7 938.6,877.8 936.1,878.7 934.4,881.2 931.9,881.2 930.2,878.7 926.1,879.0 923.5,877.0 921.9,875.0 917.7,874.5 915.2,876.2 912.7,876.2 911.0,873.7 908.5,875.0 906.0,876.2 905.3,877.0 903.1,877.8 902.3,882.8 897.3,883.6 894.8,885.0 892.6,883.6 891.4,879.5 888.9,880.3 886.4,881.6 883.6,880.3 882.2,876.1 878.2,876.1 877.5,886.6 874.7,887.8 872.2,886.1 871.4,877.0 868.9,878.3 864.7,880.0 862.2,879.5 859.7,876.1 858.0,875.0 853.5,874.5 852.1,879.0 844.6,879.0 842.1,877.8 840.5,874.5 836.3,876.1 835.1,880.3 832.1,881.6 830.4,880.0 827.1,880.0 820.4,880.0 817.9,878.6 817.1,870.3 815.1,870.3 813.7,874.5 809.5,875.0 805.4,875.0 802.0,873.6 798.7,872.3 793.7,873.6 791.2,876.1 788.7,877.8 786.1,877.0 785.0,873.6 783.6,877.0 780.3,877.8 777.8,880.6 775.6,880.0 774.5,877.0 772.3,876.1 771.6,885.3 768.9,887.0 766.6,885.3 766.1,874.5 764.4,873.6 763.6,875.3 761.1,877.8 758.2,877.0 756.9,873.6 750.2,873.6 749.4,876.1 746.9,877.8 743.5,877.3 741.0,878.6 736.9,878.6 732.7,879.5 730.2,881.6 727.7,880.6 726.8,877.0 723.5,875.6 719.3,876.6 715.1,875.3 713.5,877.8 710.1,878.3 709.5,884.5 706.8,885.6 704.4,884.5 703.8,878.3 700.1,878.6 694.8,879.5 693.8,886.6 691.4,888.7 688.7,886.1 687.6,880.0 683.4,879.5 680.1,876.1 675.9,877.3 671.7,877.0 669.2,878.6 667.5,881.1 663.3,881.1 661.7,882.5 660.0,882.2 657.4,882.2 653.8,880.4 652.8,876.7 649.7,875.8 649.2,879.4 646.4,881.3 643.6,880.4 640.9,879.4 637.2,880.4 635.0,883.1 632.6,881.3 629.9,879.4 625.3,878.9 622.5,877.6 621.6,865.7 618.8,863.8 615.1,851.0 612.9,841.8 611.1,828.9 610.6,805.0 609.3,794.0 608.7,757.2 607.4,726.0 607.4,680.0 605.3,631.6 604.7,575.0 604.0,512.6 603.9,455.0 603.6,452.0 603.3,455.2 603.2,485.5 602.2,533.5 601.1,621.0 600.1,680.0 599.5,702.0 598.6,737.0 598.1,740.0 597.6,760.1 596.4,798.5 594.8,818.5 592.2,836.9 590.6,841.9 587.6,845.3 586.9,862.8 582.2,863.6 581.9,872.0 579.7,873.7 577.2,872.8 576.4,870.3 574.7,872.0 571.4,873.7 568.0,875.3 564.7,875.3 562.2,877.0 558.8,878.7 555.5,877.8 554.7,880.4 552.1,882.0 549.6,881.2 546.3,879.0 543.8,878.7 540.5,879.5 537.4,879.5 536.3,877.8 533.8,879.5 531.3,878.7 529.1,873.7 528.4,882.0 525.4,883.7 522.1,882.9 519.6,881.2 518.7,873.7 517.1,875.7 514.6,874.5 512.9,871.2 510.4,868.3 507.9,865.3 506.2,860.3 505.4,855.3 502.9,853.6 500.0,850.3 498.7,844.4 497.8,848.6 496.7,855.3 495.7,862.0 493.7,863.6 492.8,867.0 489.5,868.7 486.1,870.3 485.3,877.0 482.8,878.7 479.5,878.7 479.0,887.0 477.0,888.7 474.5,888.4 471.9,884.5 469.4,882.0 468.6,872.8 466.9,874.5 463.6,874.5 459.9,874.5 459.4,887.0 456.6,889.0 453.9,887.0 453.2,875.3 451.1,876.7 448.6,876.2 446.0,873.7 445.2,878.7 442.7,882.0 440.2,881.2 437.7,878.7 435.2,877.0 434.4,872.0 431.0,872.8 430.2,877.8 426.0,878.7 422.7,879.5 419.8,877.0 419.3,891.2 416.8,893.7 414.8,892.0 413.5,888.7 411.0,886.2 410.1,882.9 407.6,884.5 405.1,882.9 404.3,875.3 400.1,873.7 398.4,877.0 395.9,881.2 393.4,882.0 390.9,881.2 387.6,878.7 385.9,882.9 383.4,886.2 380.9,888.7 378.4,887.0 376.4,882.9 375.9,890.4 373.4,892.9 370.4,890.4 369.2,877.8 366.7,877.0 365.8,882.4 360.0,882.0 359.6,883.8 356.4,883.0 353.9,884.7 351.4,885.5 348.9,885.2 346.4,883.8 343.9,884.7 341.4,882.1 340.2,874.6 338.0,873.8 335.5,874.6 332.2,873.8 330.2,867.9 327.2,867.1 323.8,862.9 322.5,854.6 321.8,840.4 319.6,839.5 318.8,832.0 317.1,830.4 315.8,817.0 314.6,803.6 313.1,793.6 312.5,773.5 311.5,775.2 310.8,794.4 309.1,796.9 307.9,820.3 307.4,835.4 305.4,839.5 302.9,852.9 300.4,857.1 299.6,862.1 297.9,863.8 296.2,867.9 294.6,873.0 291.2,873.8 287.9,875.1 285.4,873.8 284.6,863.8 282.4,864.6 281.7,873.0 280.4,875.8 277.9,877.1 275.0,874.6 273.4,873.0 272.0,875.1 268.7,876.3 265.3,875.1 262.8,873.0 260.3,872.5 256.1,872.1 255.0,868.8 253.6,872.1 252.0,878.0 250.0,879.6 247.8,878.0 247.0,873.0 245.3,874.6 243.6,879.6 241.1,882.1 238.6,880.5 237.8,874.6 233.6,874.6 229.9,873.8 228.9,870.5 226.9,869.6 226.1,878.8 223.6,881.3 221.1,882.1 218.6,881.3 216.0,882.1 212.7,880.5 210.5,878.0 208.9,873.8 208.2,888.0 206.0,890.0 203.9,888.0 203.2,880.5 201.0,879.6 197.7,878.0 195.2,876.3 193.2,874.6 191.8,877.1 190.5,883.0 188.1,884.7 186.0,883.0 185.1,876.3 183.1,873.8 181.0,875.5 178.5,875.8 175.4,874.6 174.3,877.1 171.8,880.5 168.4,881.3 165.1,879.6 163.4,877.1 160.9,877.5 156.7,878.5 154.2,880.5 151.7,878.8 150.1,877.1 147.5,878.8 145.0,878.0 141.7,874.6 140.9,879.6 138.4,880.8 136.3,878.8 135.3,873.8 132.5,873.8"/>
</g>
<g fill="#000"><rect x="259" y="996" width="5" height="8"/><rect x="388" y="986" width="5" height="18"/><rect x="517" y="996" width="5" height="8"/><rect x="646" y="986" width="5" height="18"/><rect x="775" y="996" width="5" height="8"/><rect x="904" y="986" width="5" height="18"/><rect x="1033" y="996" width="5" height="8"/><rect x="1162" y="986" width="5" height="18"/><rect x="1291" y="996" width="5" height="8"/></g>
<g class="sans"><text x="132" y="1078" text-anchor="middle">20</text><text x="390" y="1078" text-anchor="middle">30</text><text x="648" y="1078" text-anchor="middle">40</text><text x="906" y="1078" text-anchor="middle">50</text><text x="1164" y="1078" text-anchor="middle">60</text><text x="1422" y="1078" text-anchor="middle">70</text></g>
<g fill="#000"><rect x="252" y="453" width="2" height="47"/><polygon points="246,499 260,499 253,527"/><rect x="546" y="364" width="2" height="48"/><polygon points="540,411 554,411 547,438"/><rect x="1033" y="485" width="2" height="47"/><polygon points="1027,531 1041,531 1034,558"/><rect x="1284" y="489" width="3" height="47"/><polygon points="1278.5,535 1292.5,535 1285.5,564"/></g>
<g class="sans">
<g transform="translate(269,433.5) rotate(-90)"><text x="0.00" y="0">(</text><text x="16.98" y="0">0</text><path transform="translate(45.34,0) scale(0.024902,-0.024902)" d="M763 0H583V1147Q518 1085 412.5 1023T223 930V1104Q374 1175 487 1276T647 1472H763Z" stroke-width="32.1"/><text x="73.69" y="0">2</text><text x="102.05" y="0">)</text></g>
<g transform="translate(561.5,345) rotate(-90)"><text x="0.00" y="0">(</text><path transform="translate(16.98,0) scale(0.024902,-0.024902)" d="M763 0H583V1147Q518 1085 412.5 1023T223 930V1104Q374 1175 487 1276T647 1472H763Z" stroke-width="32.1"/><path transform="translate(45.34,0) scale(0.024902,-0.024902)" d="M763 0H583V1147Q518 1085 412.5 1023T223 930V1104Q374 1175 487 1276T647 1472H763Z" stroke-width="32.1"/><text x="73.69" y="0">0</text><text x="102.05" y="0">)</text></g>
<g transform="translate(1048.5,462) rotate(-90)"><text x="0.00" y="0">(</text><path transform="translate(16.98,0) scale(0.024902,-0.024902)" d="M763 0H583V1147Q518 1085 412.5 1023T223 930V1104Q374 1175 487 1276T647 1472H763Z" stroke-width="32.1"/><path transform="translate(45.34,0) scale(0.024902,-0.024902)" d="M763 0H583V1147Q518 1085 412.5 1023T223 930V1104Q374 1175 487 1276T647 1472H763Z" stroke-width="32.1"/><text x="73.69" y="0">6</text><text x="102.05" y="0">)</text></g>
<g transform="translate(1300.5,465.6) rotate(-90)"><text x="0.00" y="0">(</text><text x="16.98" y="0">3</text><text x="45.34" y="0">0</text><text x="73.69" y="0">0</text><text x="102.05" y="0">)</text></g>
</g>
<line x1="942" y1="166" x2="1054" y2="166" stroke="#ff0000" stroke-width="6.5" stroke-linecap="round"/>
<line x1="942.5" y1="250" x2="1055" y2="250" stroke="#000" stroke-width="6.5" stroke-linecap="round"/>
<g class="sans">
<text x="1068" y="184">α-Fe</text><text x="1173.5" y="197.5" style="font-size:35px;stroke-width:0.4px;filter:grayscale(1)">2</text><text x="1193" y="184">O</text><text x="1232.7" y="197.5" style="font-size:35px;stroke-width:0.4px;filter:grayscale(1)">3</text><text x="1252.6" y="184">/FTO</text>
<text x="1070" y="268">FTO</text>
</g>
<text class="serif" transform="translate(797.7,1157) scale(0.981,1)" text-anchor="middle">2 Theta (deg.)</text>
<text class="serif" transform="translate(73.6,506.3) rotate(-90) scale(0.988,1)" text-anchor="middle">Intensity(a.u.)</text>
</svg>
</body></html>
